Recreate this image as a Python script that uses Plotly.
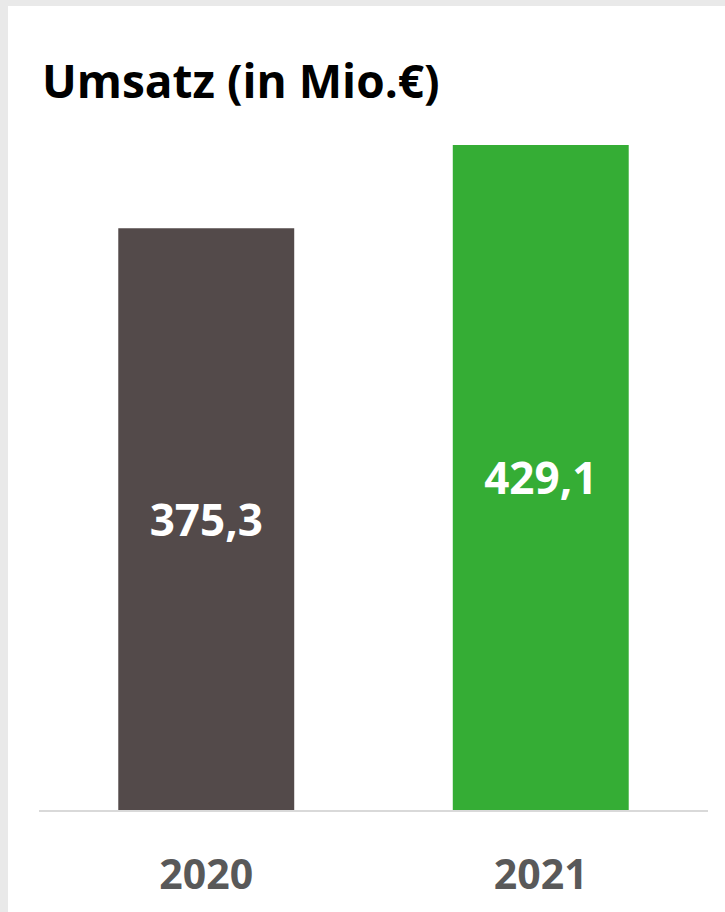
import plotly.graph_objects as go

years = ["2020", "2021"]
umsatz = [375.3, 429.1]
labels = ["375,3", "429,1"]
colors = ["#534a4a", "#35ad35"]

W, H = 725, 912
L, R, T, B = 39, 17, 100, 102

fig = go.Figure()
fig.add_trace(go.Bar(
    x=years, y=umsatz, marker=dict(color=colors, line=dict(width=0)),
    text=["<b>" + t + "</b>" for t in labels],
    textposition="inside", insidetextanchor="middle",
    textfont=dict(color="white", size=44, family="Open Sans"),
    textangle=0, hoverinfo="skip",
))

# white card on a light gray page
plot_w, plot_h = W - L - R, H - T - B
fig.add_shape(type="rect", xref="paper", yref="paper", layer="below",
              x0=(8 - L) / plot_w, x1=(W + 10 - L) / plot_w,
              y0=-(B + 10) / plot_h, y1=(H - 6 - B) / plot_h,
              fillcolor="white", line=dict(width=0))

fig.update_layout(
    width=W, height=H,
    margin=dict(l=L, r=R, t=T, b=B, autoexpand=False),
    paper_bgcolor="#e9e9e9", plot_bgcolor="white",
    bargap=0.474, showlegend=False,
    font=dict(family="Open Sans"),
    title=dict(text="<b>Umsatz (in Mio.€)</b>", xref="container", yref="container",
               x=42 / W, xanchor="left", y=1 - 82 / H, yanchor="middle",
               font=dict(size=46, color="black", family="Open Sans")),
)
fig.update_xaxes(showline=True, linecolor="#d9d9d9", linewidth=2,
                 tickfont=dict(size=41, color="#595959", family="Open Sans"),
                 tickprefix="<b>", ticksuffix="</b>", automargin=False,
                 ticklabelstandoff=28, showgrid=False)
fig.update_yaxes(range=[0, (H - T - B) / 1.55], visible=False, showgrid=False,
                 automargin=False)

fig.write_html("out.html", config={"displayModeBar": False},
               post_script="document.body.style.margin='0';")
